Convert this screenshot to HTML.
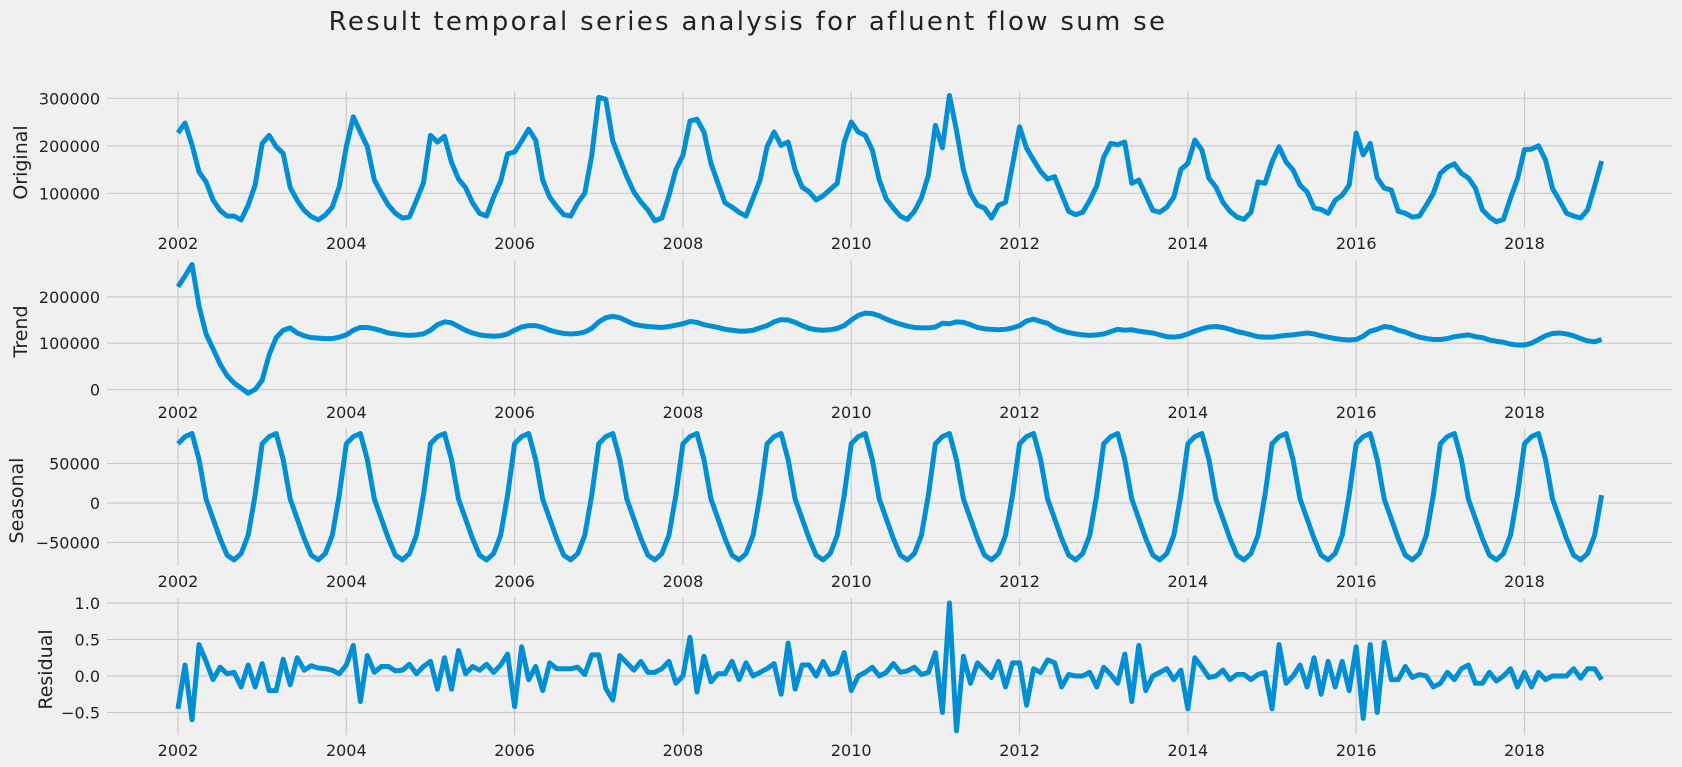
<!DOCTYPE html>
<html><head><meta charset="utf-8"><title>Result temporal series analysis</title>
<style>
html,body{margin:0;padding:0;background:#f0f0f0;}
svg{display:block;font-family:"DejaVu Sans","Liberation Sans",sans-serif;}
</style></head>
<body>
<svg id="chart" width="1682" height="767" viewBox="0 0 1682 767" xmlns="http://www.w3.org/2000/svg">
<rect x="0" y="0" width="1682" height="767" fill="#f0f0f0"/>
<text x="748" y="30" text-anchor="middle" font-size="26" letter-spacing="2.3" fill="#222">Result temporal series analysis for afluent flow sum se</text>
</svg>
<script>
// monthly data, Jan 2002 .. Dec 2018 (values in thousands for original/trend/seasonal)
const xTickLabels = ["2002","2004","2006","2008","2010","2012","2014","2016","2018"];
const original = [
227,248,202,145,124,86,64,52,52,44,75,117,
205,222,198,184,112,85,64,51,44,54,71,114,
198,261,229,198,128,100,75,58,48,50,85,122,
222,208,220,165,130,112,80,58,52,92,125,183,
187,210,235,212,128,92,72,55,52,80,100,180,
302,298,210,172,135,103,82,65,42,48,95,150,
180,252,256,229,163,121,80,71,60,52,90,128,
198,229,201,208,149,113,103,86,95,108,121,208,
250,229,222,191,128,88,69,52,45,62,90,138,
243,196,306,233,149,100,75,69,48,75,81,160,
240,195,170,146,130,135,98,62,55,60,85,115,
176,205,202,208,121,128,96,64,60,71,92,150,
163,212,191,132,113,81,62,50,45,60,124,121,
166,198,166,149,117,103,69,66,58,85,96,117,
227,181,205,132,111,107,62,58,50,52,75,100,
142,155,162,142,132,111,65,50,40,45,90,130,
192,193,200,170,110,85,58,52,48,65,115,168];
const trend = [
222,245,270,180,120,88,55,30,14,3,-8,0,
20,75,112,128,133,122,116,112,111,110,110,113,
118,128,134,134,131,127,122,120,118,117,118,120,
128,140,146,144,136,128,122,118,116,115,116,120,
128,135,138,138,134,128,124,121,120,121,124,132,
146,155,158,155,148,141,138,136,135,134,136,139,
142,147,145,140,137,134,130,128,126,126,128,133,
138,146,151,150,145,138,132,129,128,129,132,138,
150,160,165,164,159,152,146,141,137,134,133,133,
135,143,142,146,145,140,134,131,130,129,130,133,
138,148,152,147,143,133,127,123,120,118,117,118,
120,125,130,128,129,126,124,122,118,114,113,115,
120,126,131,135,136,134,130,125,122,118,114,113,
113,115,117,118,120,122,120,116,113,110,108,107,
108,115,126,130,136,134,128,124,118,113,110,108,
108,110,114,116,118,114,112,107,104,102,98,96,
96,100,108,116,121,122,120,116,110,105,103,108];
const seasonal = [
75,84,88,55,5,-20,-45,-66,-72,-64,-41,10,
75,84,88,55,5,-20,-45,-66,-72,-64,-41,10,
75,84,88,55,5,-20,-45,-66,-72,-64,-41,10,
75,84,88,55,5,-20,-45,-66,-72,-64,-41,10,
75,84,88,55,5,-20,-45,-66,-72,-64,-41,10,
75,84,88,55,5,-20,-45,-66,-72,-64,-41,10,
75,84,88,55,5,-20,-45,-66,-72,-64,-41,10,
75,84,88,55,5,-20,-45,-66,-72,-64,-41,10,
75,84,88,55,5,-20,-45,-66,-72,-64,-41,10,
75,84,88,55,5,-20,-45,-66,-72,-64,-41,10,
75,84,88,55,5,-20,-45,-66,-72,-64,-41,10,
75,84,88,55,5,-20,-45,-66,-72,-64,-41,10,
75,84,88,55,5,-20,-45,-66,-72,-64,-41,10,
75,84,88,55,5,-20,-45,-66,-72,-64,-41,10,
75,84,88,55,5,-20,-45,-66,-72,-64,-41,10,
75,84,88,55,5,-20,-45,-66,-72,-64,-41,10,
75,84,88,55,5,-20,-45,-66,-72,-64,-41,10];
const residual = [
-0.45,0.15,-0.6,0.43,0.2,-0.05,0.12,0.03,0.05,-0.15,0.15,-0.15,
0.17,-0.2,-0.2,0.23,-0.12,0.25,0.08,0.14,0.11,0.1,0.08,0.03,
0.15,0.42,-0.35,0.28,0.05,0.13,0.13,0.07,0.08,0.16,0.03,0.13,
0.2,-0.18,0.25,-0.18,0.35,0.03,0.13,0.08,0.16,0.05,0.15,0.3,
-0.42,0.4,-0.05,0.13,-0.2,0.18,0.1,0.1,0.1,0.12,0.02,0.29,
0.29,-0.17,-0.33,0.28,0.18,0.08,0.2,0.05,0.05,0.1,0.2,-0.1,
0.0,0.53,-0.22,0.27,-0.08,0.03,0.03,0.2,-0.05,0.18,0.0,0.05,
0.1,0.17,-0.25,0.45,-0.18,0.15,0.15,0.0,0.2,0.02,0.05,0.32,
-0.2,0.0,0.05,0.12,0.0,0.05,0.17,0.05,0.07,0.12,0.02,0.05,
0.32,-0.5,1.0,-0.75,0.27,-0.1,0.18,0.08,-0.02,0.2,-0.15,0.18,
0.18,-0.4,0.1,0.05,0.22,0.18,-0.15,0.02,0.0,0.0,0.05,-0.15,
0.12,0.02,-0.1,0.3,-0.35,0.42,-0.2,0.0,0.05,0.1,-0.05,0.08,
-0.45,0.25,0.12,-0.02,0.0,0.08,-0.05,0.02,0.02,-0.05,0.02,0.05,
-0.45,0.43,-0.1,0.0,0.15,-0.15,0.25,-0.25,0.2,-0.15,0.2,-0.2,
0.4,-0.58,0.43,-0.5,0.46,-0.05,-0.05,0.13,-0.02,0.02,0.0,-0.15,
-0.1,0.05,-0.05,0.1,0.15,-0.1,-0.1,0.05,-0.07,0.0,0.1,-0.15,
0.05,-0.15,0.05,-0.05,0.0,0.0,0.0,0.1,-0.03,0.1,0.1,-0.05];
const originalTicks = [100,200,300];
const originalTickLabels = ["100000","200000","300000"];
const trendTicks = [0,100,200];
const trendTickLabels = ["0","100000","200000"];
const seasonalTicks = [-50,0,50];
const seasonalTickLabels = ["\u221250000","0","50000"];
const residualTicks = [-0.5,0,0.5,1.0];
const residualTickLabels = ["\u22120.5","0.0","0.5","1.0"];

const NS = "http://www.w3.org/2000/svg";
const svg = document.getElementById("chart");
const AX_L = 107, AX_R = 1672;
function xScale(i){ return 178 + i * 7.013; }

function mk(tag, attrs){ const e = document.createElementNS(NS, tag); for (const k in attrs) e.setAttribute(k, attrs[k]); return e; }

const panels = [
 {key:"original", label:"Original", data:original, top:91, bottom:228, y0:240.8, k:0.475, ticks:originalTicks, tl:originalTickLabels, lx:21},
 {key:"trend", label:"Trend", data:trend, top:260, bottom:397, y0:389.5, k:0.463, ticks:trendTicks, tl:trendTickLabels, lx:21},
 {key:"seasonal", label:"Seasonal", data:seasonal, top:429, bottom:566, y0:503, k:0.79, ticks:seasonalTicks, tl:seasonalTickLabels, lx:17},
 {key:"residual", label:"Residual", data:residual, top:598, bottom:735, y0:676, k:73, ticks:residualTicks, tl:residualTickLabels, lx:46}
];

panels.forEach(p => {
  const yScale = v => p.y0 - v * p.k;
  const g = mk("g", {});
  
  
  svg.appendChild(g);
  xTickLabels.forEach((lab, j) => {
    const x = xScale(j * 24);
    const gl = mk("line", {x1:x, x2:x, y1:p.top, y2:p.bottom, stroke:"#cbcbcb", "stroke-width":1.2});
    
    
    g.appendChild(gl);
    const t = mk("text", {x:x, y:p.bottom + 21, "text-anchor":"middle", "font-size":16, fill:"#222"});
    t.textContent = lab;
    
    
    g.appendChild(t);
  });
  p.ticks.forEach((v, j) => {
    const y = yScale(v);
    const gl = mk("line", {x1:AX_L, x2:AX_R, y1:y, y2:y, stroke:"#cbcbcb", "stroke-width":1.2});
    
    
    g.appendChild(gl);
    const t = mk("text", {x:100, y:y + 6, "text-anchor":"end", "font-size":16, fill:"#222"});
    t.textContent = p.tl[j];
    
    
    g.appendChild(t);
  });
  const cy = (p.top + p.bottom) / 2 + 3;
  const at = mk("text", {x:p.lx, y:cy, "text-anchor":"middle", "dominant-baseline":"central", "font-size":19, fill:"#222", transform:"rotate(-90 " + p.lx + " " + cy + ")"});
  at.textContent = p.label;
  
  
  g.appendChild(at);
  const d = p.data.map((v, i) => (i ? "L" : "M") + xScale(i).toFixed(2) + "," + yScale(v).toFixed(2)).join(" ");
  const path = mk("path", {d:d, fill:"none", stroke:"#008fd5", "stroke-width":5, "stroke-linejoin":"round", "stroke-linecap":"butt"});
  
  
  g.appendChild(path);
});
</script>
</body></html>
